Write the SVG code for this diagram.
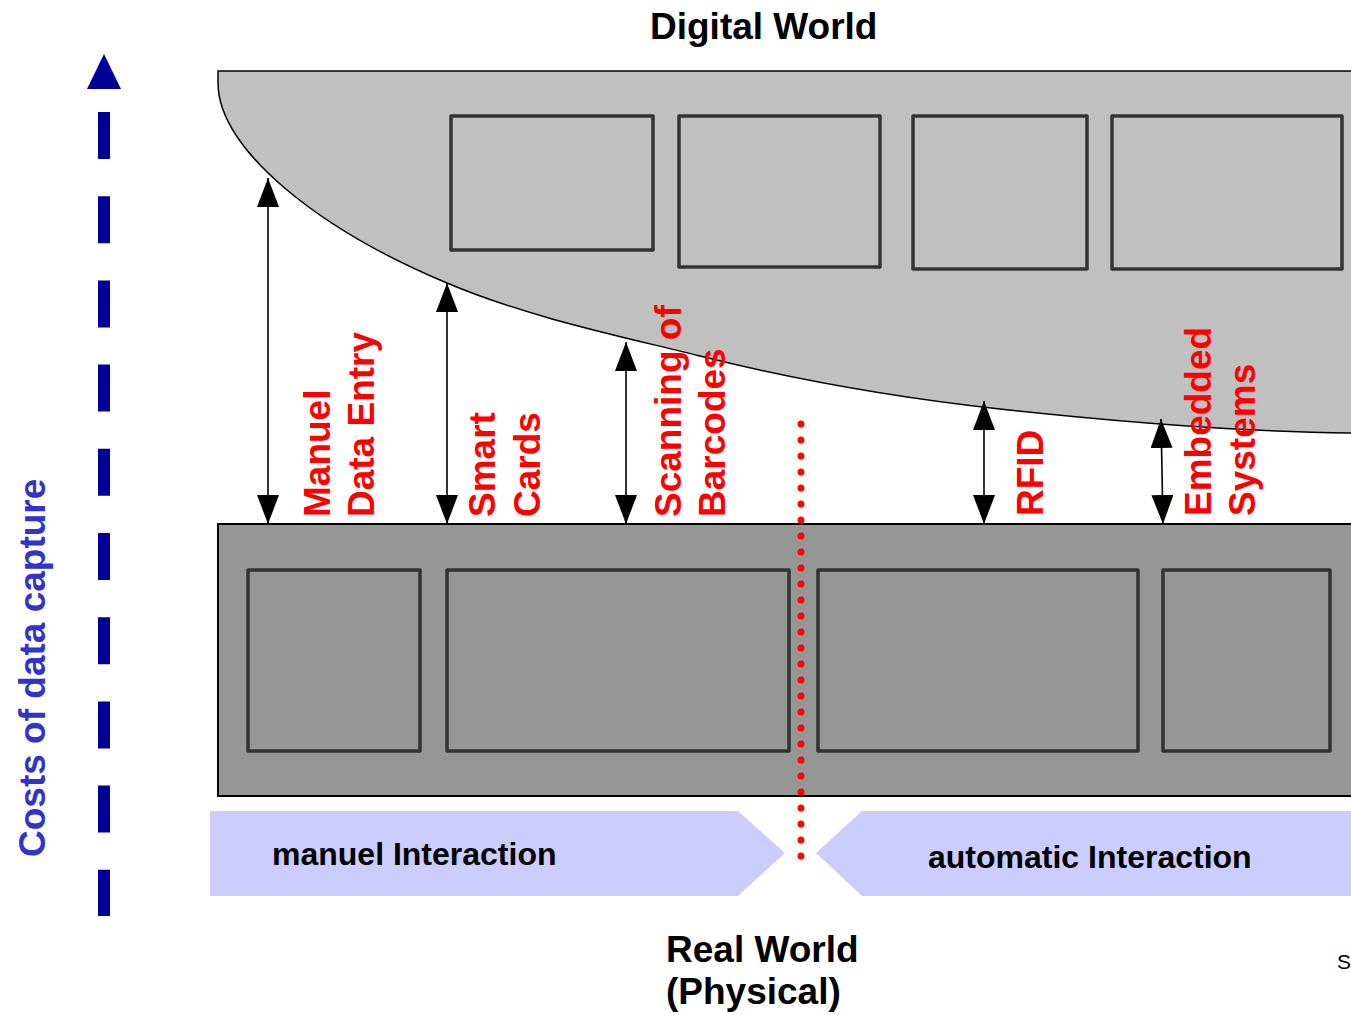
<svg xmlns="http://www.w3.org/2000/svg" width="1351" height="1015" viewBox="0 0 1351 1015">
<style>
  text { font-family: "Liberation Sans", Arial, sans-serif; }
  .title { font-size: 37px; font-weight: bold; fill: #000; }
  .lbl { font-size: 37px; font-weight: bold; fill: #FF0000; }
  .inter { font-size: 32px; font-weight: bold; fill: #000; }
  .box { fill: none; stroke: #333333; stroke-width: 3.5; stroke-linejoin: round; }
  .conn { stroke: #000; stroke-width: 1.6; fill: none; marker-start: url(#ah); marker-end: url(#ah); }
</style>
<defs>
  <marker id="ah" markerUnits="userSpaceOnUse" viewBox="0 0 29 22" refX="29" refY="11" markerWidth="29" markerHeight="22" orient="auto-start-reverse">
    <path d="M0,0 L29,11 L0,22 Z" fill="#000"/>
  </marker>
</defs>
<rect width="1351" height="1015" fill="#FFFFFF"/>

<g id="digital-world">
  <path d="M218,71 L1365,71 L1365,433 L1351,433 C1250,432 1120,422 1000,409 C900,398 800,381 700,356 C620,336 527,317 447,283 C320,230 218,150 218,83 Z" fill="#C0C0C0" stroke="#000" stroke-width="1.5"/>
  <rect class="box" x="451" y="116" width="202" height="134"/>
  <rect class="box" x="679" y="116" width="201" height="151"/>
  <rect class="box" x="913" y="116" width="174" height="153"/>
  <rect class="box" x="1112" y="116" width="230" height="153"/>
  <text class="title" x="650" y="38.5">Digital World</text>
</g>

<g id="real-world">
  <rect x="218" y="524" width="1150" height="272" fill="#969696" stroke="#000" stroke-width="2"/>
  <rect class="box" x="248" y="570" width="172" height="181"/>
  <rect class="box" x="447" y="570" width="342" height="181"/>
  <rect class="box" x="818" y="570" width="320" height="181"/>
  <rect class="box" x="1163" y="570" width="167" height="181"/>
  <text class="title" x="666" y="961.5">Real World</text>
  <text class="title" x="666" y="1004">(Physical)</text>
</g>

<g id="connectors">
  <line class="conn" x1="268" y1="178" x2="268" y2="524"/>
  <line class="conn" x1="447" y1="283" x2="447" y2="524"/>
  <line class="conn" x1="626" y1="342" x2="626" y2="524"/>
  <line class="conn" x1="984" y1="401" x2="984" y2="524"/>
  <line class="conn" x1="1161" y1="419" x2="1163" y2="524"/>
</g>

<g id="label-manuel">
  <text class="lbl" transform="translate(330,517) rotate(-90)">Manuel</text>
  <text class="lbl" transform="translate(374,517) rotate(-90)">Data Entry</text>
</g>
<g id="label-smart">
  <text class="lbl" transform="translate(495,517) rotate(-90)">Smart</text>
  <text class="lbl" transform="translate(540,517) rotate(-90)">Cards</text>
</g>
<g id="label-barcodes">
  <text class="lbl" transform="translate(681,517) rotate(-90)">Scanning of</text>
  <text class="lbl" transform="translate(725,517) rotate(-90)">Barcodes</text>
</g>
<g id="label-rfid">
  <text class="lbl" transform="translate(1043,516) rotate(-90)">RFID</text>
</g>
<g id="label-embedded">
  <text class="lbl" transform="translate(1211,516) rotate(-90)">Embedded</text>
  <text class="lbl" transform="translate(1255,516) rotate(-90)">Systems</text>
</g>

<g id="divider">
  <line x1="801" y1="424" x2="801" y2="872" stroke="#FF0000" stroke-width="7" stroke-linecap="round" stroke-dasharray="0 16"/>
</g>

<g id="manual-interaction">
  <polygon points="210,811 738,811 785,853 738,896 210,896" fill="#CCCCFF"/>
  <text class="inter" x="272" y="865">manuel Interaction</text>
</g>
<g id="automatic-interaction">
  <polygon points="1360,811 862,811 816,853 862,896 1360,896" fill="#CCCCFF"/>
  <text class="inter" x="928" y="868">automatic Interaction</text>
</g>

<g id="cost-axis">
  <line x1="104" y1="112" x2="104" y2="916" stroke="#000099" stroke-width="12" stroke-dasharray="47 37.2"/>
  <polygon points="104,54 87,89 121,89" fill="#000099"/>
  <text transform="translate(45,857) rotate(-90)" font-size="37" font-weight="bold" fill="#3333CC">Costs of data capture</text>
</g>

<text x="1337" y="969" font-size="21" fill="#000">S</text>
</svg>
